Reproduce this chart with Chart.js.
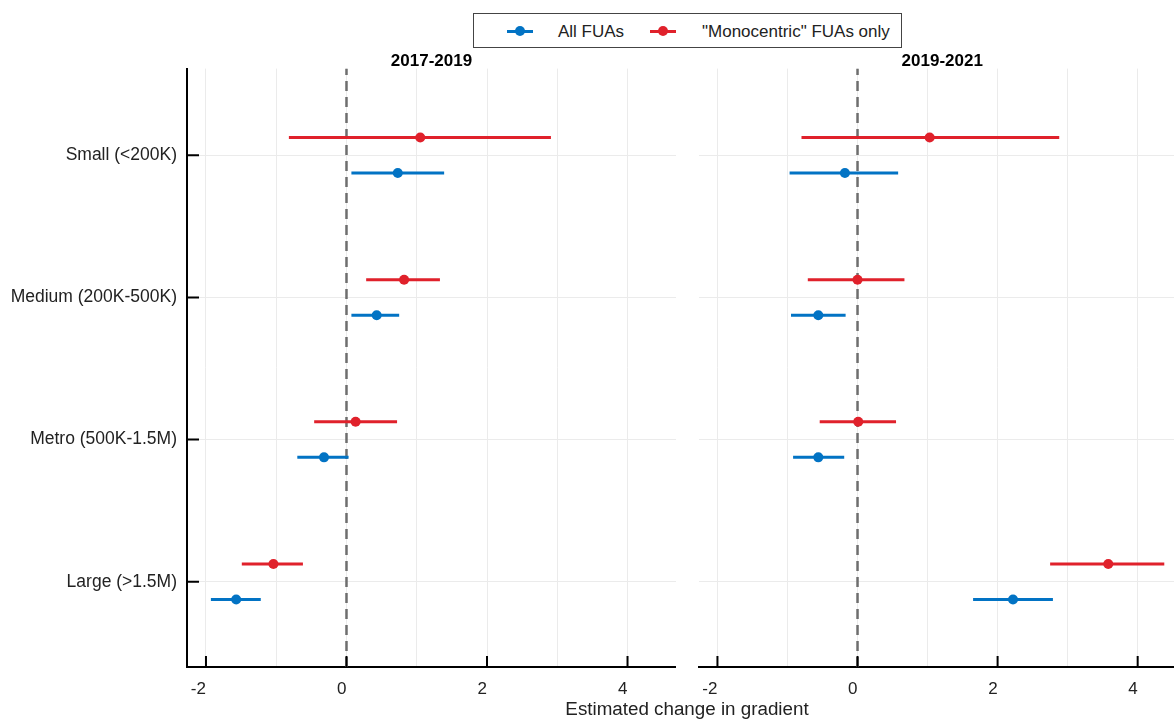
<!DOCTYPE html>
<html>
<head>
<meta charset="utf-8">
<title>Estimated change in gradient</title>
<script src="https://cdn.jsdelivr.net/npm/chart.js@4.4.1/dist/chart.umd.min.js"></script>
<style>
    html, body { margin: 0; padding: 0; background: #fff; width: 1174px; height: 719px; overflow: hidden; }
    body { position: relative; font-family: 'Liberation Sans', Arial, sans-serif; color: #222; }
    canvas { position: absolute; top: 0; }
    #panel1 { left: 0; }
    #panel2 { left: 690px; }
    #legend { position: absolute; left: 473px; top: 13px; width: 427px; height: 33px; border: 1.5px solid #444; background: #fff; z-index: 2; }
    .key { position: absolute; top: 0; height: 33px; line-height: 36px; font-size: 17px; white-space: nowrap; }
    .sym { position: absolute; top: 16px; width: 26px; height: 3px; }
    .sym::after { content: ''; position: absolute; left: 8px; top: -4px; width: 10px; height: 10px; border-radius: 50%; background: inherit; }
    #xtitle { position: absolute; left: 0; width: 1374px; top: 698px; text-align: center; font-size: 18.8px; z-index: 2; }
</style>
</head>
<body>
<canvas id="panel1" width="676" height="719"></canvas>
<canvas id="panel2" width="496" height="719"></canvas>
<div id="legend">
    <span class="sym" style="left:33px;background:#0273C4"></span>
    <span class="key" style="left:84px">All FUAs</span>
    <span class="sym" style="left:176px;background:#E0212B"></span>
    <span class="key" style="left:228px">"Monocentric" FUAs only</span>
</div>
<div id="xtitle">Estimated change in gradient</div>
<script>
// Size groups, top to bottom
const categories = ['Small (<200K)', 'Medium (200K-500K)', 'Metro (500K-1.5M)', 'Large (>1.5M)'];
const xTicks = [-2, 0, 2, 4];

// 2017-2019
const allEst1719 = [0.73, 0.43, -0.32, -1.57];
const allLo1719 = [0.07, 0.07, -0.70, -1.93];
const allHi1719 = [1.39, 0.75, 0.03, -1.22];
const monoEst1719 = [1.05, 0.82, 0.13, -1.04];
const monoLo1719 = [-0.82, 0.28, -0.46, -1.49];
const monoHi1719 = [2.91, 1.33, 0.72, -0.62];

// 2019-2021
const allEst1921 = [-0.18, -0.56, -0.56, 2.22];
const allLo1921 = [-0.97, -0.95, -0.92, 1.65];
const allHi1921 = [0.58, -0.17, -0.19, 2.79];
const monoEst1921 = [1.03, 0.00, 0.01, 3.58];
const monoLo1921 = [-0.80, -0.71, -0.54, 2.75];
const monoHi1921 = [2.88, 0.67, 0.55, 4.38];

const BLUE = '#0273C4';
const RED = '#E0212B';
const DODGE = 0.125;
const FONT = "'Liberation Sans', Arial, sans-serif";

const catPos = (i) => categories.length - i;

function seriesDatasets(est, lo, hi, color, offset) {
    const ci = [];
    lo.forEach((l, i) => {
        ci.push({ x: l, y: catPos(i) + offset }, { x: hi[i], y: catPos(i) + offset }, { x: hi[i], y: null });
    });
    return [
        { data: ci, showLine: true, borderColor: color, borderWidth: 3, pointRadius: 0, spanGaps: false, order: 3 },
        { data: est.map((v, i) => ({ x: v, y: catPos(i) + offset })), backgroundColor: color, borderColor: color, pointRadius: 5, pointBorderWidth: 0, order: 1 }
    ];
}

// tick marks drawn inside the panel, like the original
const innerTicks = {
    id: 'innerTicks',
    afterDraw(chart, args, opts) {
        const { ctx, chartArea, scales } = chart;
        ctx.save();
        ctx.strokeStyle = '#000';
        ctx.lineWidth = 2;
        ctx.beginPath();
        xTicks.forEach((v) => {
            const px = scales.x.getPixelForValue(v);
            ctx.moveTo(px, chartArea.bottom);
            ctx.lineTo(px, chartArea.bottom - 11);
        });
        if (opts.yTicks) {
            categories.forEach((c, i) => {
                const py = scales.y.getPixelForValue(catPos(i));
                ctx.moveTo(chartArea.left, py);
                ctx.lineTo(chartArea.left + 12, py);
            });
        }
        ctx.stroke();
        ctx.restore();
    }
};

function makePanel(id, title, all, mono, showY) {
    const ctx = document.getElementById(id).getContext('2d');
    return new Chart(ctx, {
        type: 'scatter',
        data: {
            datasets: [
                { data: [{ x: 0, y: 0.4 }, { x: 0, y: 4.61 }], showLine: true, borderColor: '#6e6e6e', borderWidth: 2.5, borderDash: [10, 6], pointRadius: 0, order: 5 },
                ...seriesDatasets(all[0], all[1], all[2], BLUE, -DODGE),
                ...seriesDatasets(mono[0], mono[1], mono[2], RED, DODGE)
            ]
        },
        options: {
            responsive: false,
            animation: false,
            layout: { autoPadding: false, padding: { top: 55, left: 0, right: 0, bottom: 0 } },
            plugins: {
                legend: { display: false },
                tooltip: { enabled: false },
                title: {
                    display: true,
                    fullSize: false,
                    text: title,
                    color: '#000',
                    font: { family: FONT, size: 17, weight: 'bold', lineHeight: 0.8 },
                    padding: 0
                },
                innerTicks: { yTicks: showY }
            },
            scales: {
                x: {
                    type: 'linear',
                    min: -2.27,
                    max: 4.69,
                    afterFit: (s) => { s.height = 52; },
                    ticks: {
                        stepSize: 1,
                        includeBounds: false,
                        align: 'end',
                        padding: 12,
                        color: '#222',
                        font: { family: FONT, size: 17 },
                        callback: (v) => (xTicks.includes(v) ? String(v) : '')
                    },
                    grid: { color: '#ebebeb', lineWidth: 1, drawTicks: false },
                    border: { display: true, color: '#000', width: 2 }
                },
                y: {
                    type: 'linear',
                    min: 0.4,
                    max: 4.61,
                    afterBuildTicks: (s) => { s.ticks = categories.map((c, i) => ({ value: catPos(i) })); },
                    afterFit: (s) => { s.width = showY ? 187 : 0; },
                    ticks: {
                        display: showY,
                        padding: 10,
                        color: '#222',
                        font: { family: FONT, size: 17.5 },
                        callback: (v) => categories[categories.length - v]
                    },
                    grid: { color: '#ebebeb', lineWidth: 1, drawTicks: false },
                    border: { display: showY, color: '#000', width: 2 }
                }
            }
        },
        plugins: [innerTicks]
    });
}

makePanel('panel1', '2017-2019', [allEst1719, allLo1719, allHi1719], [monoEst1719, monoLo1719, monoHi1719], true);
makePanel('panel2', '2019-2021', [allEst1921, allLo1921, allHi1921], [monoEst1921, monoLo1921, monoHi1921], false);
</script>
</body>
</html>
